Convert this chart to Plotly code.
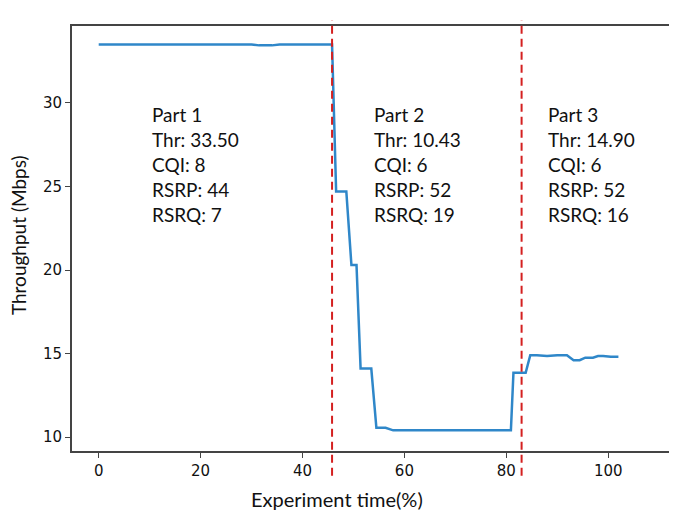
import plotly.graph_objects as go

# Data
time_pct = [0, 30, 31.5, 34, 35.5, 45.8, 46.6, 48.6, 49.6, 50.6, 51.4, 53.5, 54.5, 56.3, 57.8,
            80.9, 81.4, 83.8, 84.7, 86, 88, 90, 91.9, 93.2, 94.4, 95.5, 97, 98, 99, 100.5, 102]
throughput = [33.5, 33.5, 33.45, 33.45, 33.5, 33.5, 24.7, 24.7, 20.3, 20.3, 14.1, 14.1, 10.55, 10.55, 10.4,
              10.4, 13.85, 13.85, 14.9, 14.9, 14.85, 14.9, 14.9, 14.6, 14.6, 14.75, 14.75, 14.85, 14.85, 14.8, 14.8]

boundaries = [45.8, 83.0]

part_labels = [
    ["Part 1", "Thr: 33.50", "CQI: 8", "RSRP: 44", "RSRQ: 7"],
    ["Part 2", "Thr: 10.43", "CQI: 6", "RSRP: 52", "RSRQ: 19"],
    ["Part 3", "Thr: 14.90", "CQI: 6", "RSRP: 52", "RSRQ: 16"],
]
part_x = [10.0, 53.6, 87.8]
line_top_y = 29.3
line_step = 1.5

x_ticks = [0, 20, 40, 60, 80, 100]
y_ticks = [10, 15, 20, 25, 30]

fig = go.Figure()
fig.add_trace(go.Scatter(x=time_pct, y=throughput, mode="lines",
                         line=dict(color="#2f87c9", width=2.5), showlegend=False))

for b in boundaries:
    fig.add_shape(type="line", xref="x", yref="paper", x0=b, x1=b, y0=-0.058, y1=1.013,
                  line=dict(color="#d42020", width=2, dash="8px,5px"))

for px, labels in zip(part_x, part_labels):
    for i, t in enumerate(labels):
        fig.add_annotation(x=px, y=line_top_y - i * line_step, xref="x", yref="y",
                           text=t, showarrow=False, xanchor="left", yanchor="middle",
                           font=dict(family="Lato, Open Sans, sans-serif", size=19, color="#111"))

fig.add_annotation(text="Experiment time(%)", xref="paper", yref="paper", x=0.438, y=-0.114,
                   xanchor="center", yanchor="middle", showarrow=False,
                   font=dict(family="Lato, Open Sans, sans-serif", size=20, color="#111"))
fig.add_annotation(text="Throughput (Mbps)", xref="paper", yref="paper", x=-0.0893, y=0.508,
                   xanchor="center", yanchor="middle", showarrow=False, textangle=-90,
                   font=dict(family="Lato, Open Sans, sans-serif", size=19, color="#111"))

fig.update_layout(
    width=669, height=507,
    margin=dict(l=64, r=0, t=17.5, b=63.7),
    plot_bgcolor="white", paper_bgcolor="white",
    font=dict(family="DejaVu Sans, sans-serif", size=15, color="#111"),
)
fig.update_xaxes(range=[-5.24, 113.5], tickvals=x_ticks, showgrid=False, zeroline=False,
                 showline=True, linecolor="#444", linewidth=1.8, mirror=True,
                 ticks="outside", ticklen=5, tickcolor="#444", automargin=False)
fig.update_yaxes(range=[9.163, 34.61], tickvals=y_ticks, showgrid=False, zeroline=False,
                 showline=True, linecolor="#444", linewidth=1.8,
                 ticks="outside", ticklen=5, tickcolor="#444", automargin=False)

fig.write_html("out.html")
